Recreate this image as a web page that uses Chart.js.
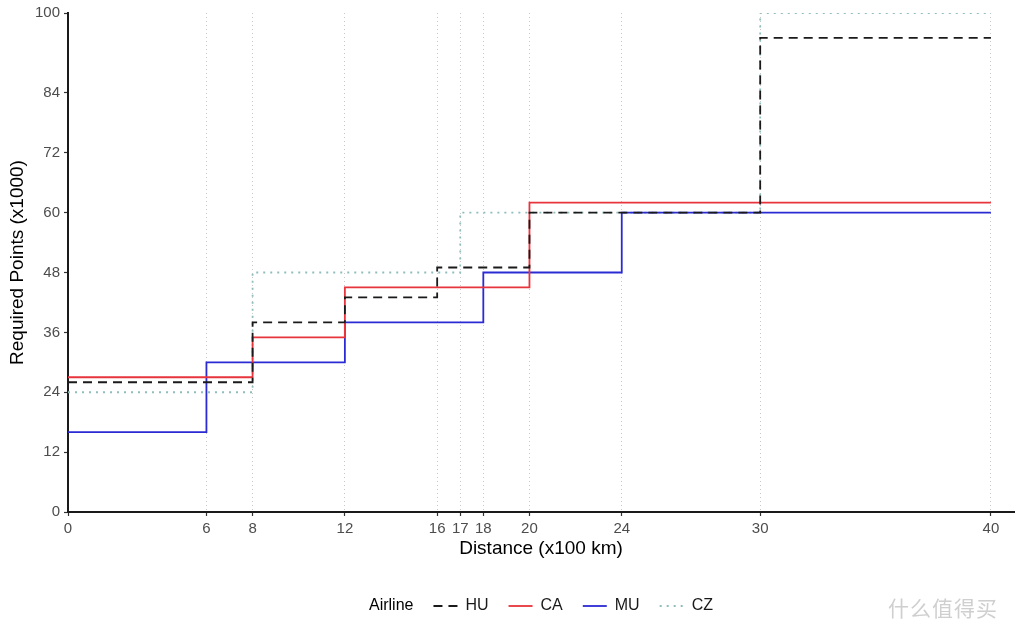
<!DOCTYPE html>
<html><head><meta charset="utf-8">
<script src="https://cdn.jsdelivr.net/npm/chart.js@4"></script>
<style>
html,body{margin:0;padding:0;background:#fff;}
#wrap{position:relative;width:1024px;height:640px;}
canvas{display:block;}
#wm{position:absolute;left:888px;top:592px;font-family:"Noto Sans CJK SC";font-size:21px;color:#cfcfcf;letter-spacing:1px;}
</style></head><body>
<div id="wrap"><canvas id="c" width="1024" height="640"></canvas><div id="wm">什么值得买</div></div>
<script>
const xTicks = [0, 6, 8, 12, 16, 17, 18, 20, 24, 30, 40];
const yTicks = [0, 12, 24, 36, 48, 60, 72, 84, 100];
const airlines = ['HU', 'CA', 'MU', 'CZ'];
const huX = [0, 8, 12, 16, 20, 30, 40];
const huY = [26, 38, 43, 49, 60, 95, 95];
const caX = [0, 8, 12, 20, 40];
const caY = [27, 35, 45, 62, 62];
const muX = [0, 6, 12, 18, 24, 40];
const muY = [16, 30, 38, 48, 60, 60];
const czX = [0, 8, 17, 30, 40];
const czY = [24, 48, 60, 100, 100];

const pts = (xs, ys) => xs.map((x, i) => ({x: x, y: ys[i]}));
const FONT = '"Liberation Sans", Arial, sans-serif';

const mk = (label, xs, ys, color, dash, width) => ({
  label: label, data: pts(xs, ys), borderColor: color, backgroundColor: color,
  borderWidth: width, borderDash: dash, stepped: true, pointRadius: 0,
  pointHoverRadius: 0, fill: false, tension: 0, borderCapStyle: 'butt'
});

const legendShift = {
  id: 'legendShift',
  beforeDraw(chart) {
    const lg = chart.legend;
    if (lg && !lg._shifted) { lg.left += 18; lg.right += 18; lg._shifted = true; }
  }
};

new Chart(document.getElementById('c'), {
  type: 'line',
  data: {
    datasets: [
      mk(airlines[0], huX, huY, '#1a1a1a', [9, 6], 1.8),
      mk(airlines[1], caX, caY, '#e8343c', [], 1.8),
      mk(airlines[2], muX, muY, '#2b2bd4', [], 1.8),
      mk(airlines[3], czX, czY, '#8fbdbd', [2, 5], 1.8)
    ]
  },
  plugins: [legendShift],
  options: {
    responsive: false,
    animation: false,
    layout: {padding: {left: 0, right: 10, top: 10, bottom: 16}},
    plugins: {
      tooltip: {enabled: false},
      legend: {
        position: 'bottom',
        labels: {
          usePointStyle: true, pointStyle: 'line', pointStyleWidth: 24,
          padding: 20, font: {family: FONT, size: 16}, color: '#1a1a1a',
          generateLabels: (chart) => {
            const items = Chart.defaults.plugins.legend.labels.generateLabels(chart);
            items.forEach(it => {
              const ds = chart.data.datasets[it.datasetIndex];
              it.fontColor = '#1a1a1a';
              it.strokeStyle = ds.borderColor;
              it.fillStyle = ds.borderColor;
              it.lineWidth = ds.borderWidth;
              it.lineDash = ds.borderDash;
              it.lineCap = 'butt';
            });
            return [{text: 'Airline', fillStyle: 'rgba(0,0,0,0)', strokeStyle: 'rgba(0,0,0,0)',
                     lineWidth: 0, pointStyle: 'line', hidden: false, fontColor: '#000'}].concat(items);
          }
        }
      }
    },
    scales: {
      x: {
        type: 'linear', min: 0, max: 41,
        afterBuildTicks: s => { s.ticks = xTicks.map(v => ({value: v})); },
        afterFit: s => { s.height = 66; },
        ticks: {autoSkip: false, maxRotation: 0, font: {family: FONT, size: 15}, color: '#4d4d4d', padding: 4},
        grid: {color: '#c8c8c8', lineWidth: 1, tickColor: '#333', tickLength: 4, tickWidth: 1.2, tickBorderDash: []},
        border: {display: true, color: '#1a1a1a', width: 2, dash: [1, 3]},
        title: {display: true, text: 'Distance (x100 km)', font: {family: FONT, size: 19}, color: '#000', padding: {top: 2, bottom: 18}}
      },
      y: {
        type: 'linear', min: 0, max: 100,
        afterBuildTicks: s => { s.ticks = yTicks.map(v => ({value: v})); },
        afterFit: s => { s.width = 68; },
        ticks: {autoSkip: false, font: {family: FONT, size: 15}, color: '#4d4d4d', padding: 4},
        grid: {drawOnChartArea: false, tickColor: '#333', tickLength: 4, tickWidth: 1.2},
        border: {display: true, color: '#1a1a1a', width: 2},
        title: {display: true, text: 'Required Points (x1000)', font: {family: FONT, size: 19}, color: '#000', padding: {top: 6, bottom: 0}}
      }
    }
  }
});
</script>
</body></html>
